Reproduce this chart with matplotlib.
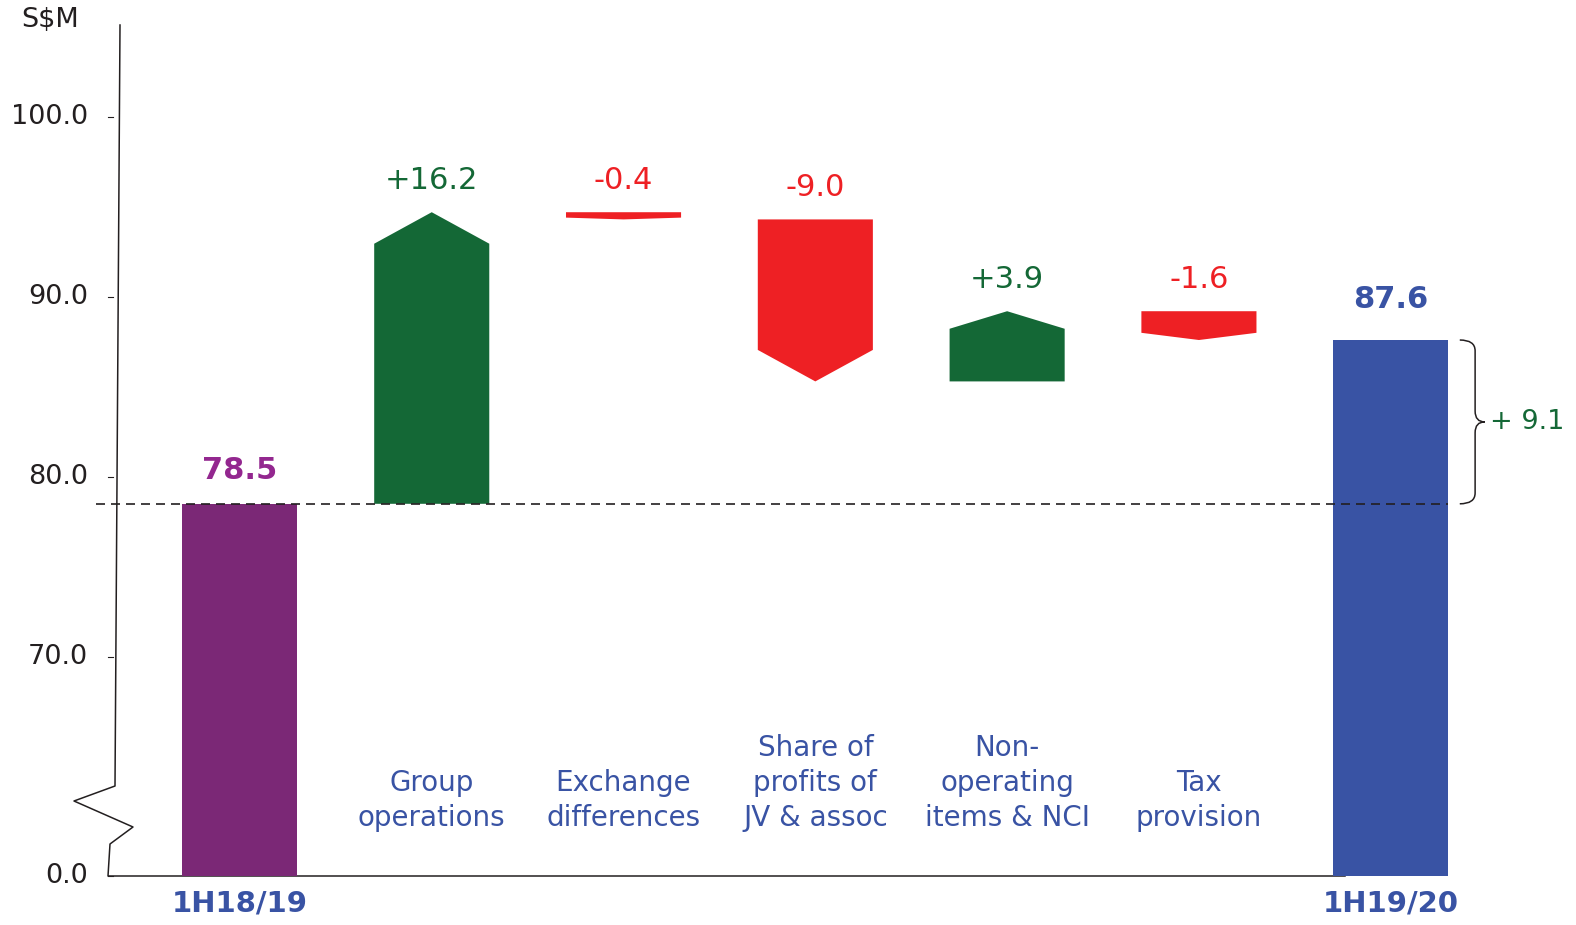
import numpy as np
import matplotlib.pyplot as plt
from matplotlib.path import Path
from matplotlib.patches import PathPatch
from matplotlib.transforms import blended_transform_factory

# data
categories = ["1H18/19", "Group\noperations", "Exchange\ndifferences",
              "Share of\nprofits of\nJV & assoc", "Non-\noperating\nitems & NCI",
              "Tax\nprovision", "1H19/20"]
start_value = 78.5
deltas = [16.2, -0.4, -9.0, 3.9, -1.6]
end_value = 87.6
change_label = "+ 9.1"
tick_values = [0, 70, 80, 90, 100]
tick_labels = ["0.0", "70.0", "80.0", "90.0", "100.0"]

PURPLE = "#7b2876"
BLUE = "#3953a4"
GREEN = "#146836"
RED = "#ee2024"
TXT = "#231f20"

# broken y axis: identity above 60, squashed below
BREAK = 60.0
ZERO_POS = 57.82
K = (BREAK - ZERO_POS) / BREAK


def fwd(v):
    v = np.asarray(v, float)
    return np.where(v >= BREAK, v, ZERO_POS + v * K)


def inv(s):
    s = np.asarray(s, float)
    return np.where(s >= BREAK, s, (s - ZERO_POS) / K)


W, H = 1576, 925
fig = plt.figure(figsize=(W / 100, H / 100), dpi=100)
ax = fig.add_axes([0, 0, 1, 1])
ax.set_yscale("function", functions=(fwd, inv))
ax.set_xlim(-1.251, 6.966)
ax.set_ylim(float(inv(55.1)), 106.49)
ax.axis("off")


def px(x, y):
    return x / W, 1 - y / H


# axis line with break zigzag and baseline
axis_pts = [px(120, 25), px(115, 786), px(74, 801), px(133, 827),
            px(110, 844), px(108, 876), px(1345, 876)]
ax.plot(*zip(*axis_pts), transform=ax.transAxes, color=TXT, lw=1.1, zorder=1)

# ticks
tr = blended_transform_factory(ax.transAxes, ax.transData)
for v, lab in zip(tick_values, tick_labels):
    ax.plot([108 / W, 113 / W], [v, v], transform=tr, color=TXT, lw=0.8)
    ax.text(88 / W, v, lab, transform=tr, ha="right", va="center",
            fontsize=19.5, color=TXT)
ax.text(*px(50, 20), "S$M", transform=ax.transAxes, ha="center", va="center",
        fontsize=19.5, color=TXT)

# totals
w = 0.6
n = len(categories)
ax.bar([0, n - 1], [start_value, end_value], width=w, color=[PURPLE, BLUE], zorder=2)
ax.annotate(f"{start_value:.1f}", (0, start_value), xytext=(0, 24),
            textcoords="offset points", ha="center", va="center",
            fontsize=22, fontweight="bold", color="#93278f")
ax.annotate(f"{end_value:.1f}", (n - 1, end_value), xytext=(0, 29),
            textcoords="offset points", ha="center", va="center",
            fontsize=22, fontweight="bold", color=BLUE)

# step arrows
level = start_value
for i, d in enumerate(deltas, start=1):
    s0, s1 = level, level + d
    h = min(0.25 * abs(d), 1.75)
    sh = s1 - h if d > 0 else s1 + h
    pts = [(i - w / 2, s0), (i + w / 2, s0), (i + w / 2, sh), (i, s1), (i - w / 2, sh)]
    col = GREEN if d > 0 else RED
    ax.fill(*zip(*pts), color=col, lw=0, zorder=2)
    ax.annotate(f"{d:+.1f}", (i, max(s0, s1)), xytext=(0, 23),
                textcoords="offset points", ha="center", va="center",
                fontsize=22, color=col)
    level = s1

# dashed reference line at start value
ax.plot([-0.75, n - 1 + w / 2], [start_value, start_value], color=TXT, lw=1.2,
        dashes=(5.4, 3.6), zorder=3)

# brace showing overall change
x0, x1, x2 = 6.36, 6.44, 6.49
top, bot = end_value, start_value
mid = (top + bot) / 2
r = 0.6
verts = [(x0, top), (x1, top), (x1, top - r),
         (x1, mid + r), (x1, mid), (x2, mid),
         (x1, mid), (x1, mid - r),
         (x1, bot + r), (x1, bot), (x0, bot)]
codes = [Path.MOVETO, Path.CURVE3, Path.CURVE3,
         Path.LINETO, Path.CURVE3, Path.CURVE3,
         Path.CURVE3, Path.CURVE3,
         Path.LINETO, Path.CURVE3, Path.CURVE3]
ax.add_patch(PathPatch(Path(verts, codes), fill=False, color=TXT, lw=1.1))
ax.text(6.52, mid, change_label, ha="left", va="center", fontsize=19.5, color=GREEN)

# category labels
xt = ax.get_xaxis_transform()
for i in range(1, n - 1):
    ax.text(i, 1 - 832 / H, categories[i], transform=xt, ha="center", va="bottom",
            fontsize=20, color=BLUE, linespacing=1.32)
for i in (0, n - 1):
    ax.text(i, 1 - 903 / H, categories[i], transform=xt, ha="center", va="center",
            fontsize=21, fontweight="bold", color=BLUE)

fig.savefig("out.png", dpi=100)
